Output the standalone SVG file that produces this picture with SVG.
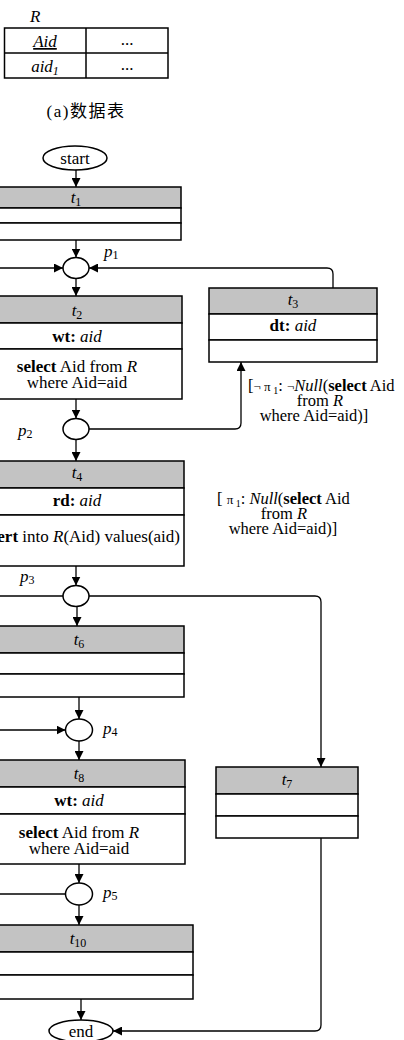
<svg xmlns="http://www.w3.org/2000/svg" width="404" height="1040" viewBox="0 0 404 1040">
<style>
text{font-family:"Liberation Serif","Times New Roman",serif;font-size:17px;fill:#000}
.c{text-anchor:middle}
.i{font-style:italic}
.b{font-weight:bold}
.hdr{fill:#c3c3c3;stroke:#000;stroke-width:1.5}
.row{fill:#fff;stroke:#000;stroke-width:1.5}
.place{fill:#fff;stroke:#000;stroke-width:1.5}
.conn{fill:none;stroke:#000;stroke-width:1.3}
.arr{marker-end:url(#ah)}
.sub{font-size:12px}
.sym{font-size:13px}
.cond{font-size:16.5px}
</style>
<defs>
<marker id="ah" viewBox="0 0 10 10" refX="10" refY="5" markerWidth="9" markerHeight="9" markerUnits="userSpaceOnUse" orient="auto">
<path d="M0,0 L10,5 L0,10 Z" fill="#000"/>
</marker>
</defs>

<g id="table">
<text x="30" y="22" class="i">R</text>
<rect x="4.5" y="28" width="163.5" height="50" fill="#fff" stroke="#000" stroke-width="1.5"/>
<line x1="4.5" y1="53" x2="168" y2="53" stroke="#000" stroke-width="1.5"/>
<line x1="86" y1="28" x2="86" y2="78" stroke="#000" stroke-width="1.5"/>
<text x="45" y="47" class="c i" text-decoration="underline">Aid</text>
<text x="127" y="45" class="c">...</text>
<text x="45" y="72" class="c i">aid<tspan class="sub" dy="3">1</tspan></text>
<text x="127" y="70" class="c">...</text>
<text x="86" y="117" class="c" style="font-family:'Liberation Serif','Noto Sans CJK SC',serif;letter-spacing:1.5px">(a)数据表</text>
</g>

<g id="connectors">
<line class="conn arr" x1="76" y1="170" x2="76" y2="187"/>
<line class="conn arr" x1="76" y1="240" x2="76" y2="257.5"/>
<line class="conn arr" x1="-5" y1="268" x2="63" y2="268"/>
<path class="conn arr" d="M333,288 V274 Q333,268 327,268 H89"/>
<line class="conn arr" x1="76" y1="278.5" x2="76" y2="296"/>
<line class="conn arr" x1="76" y1="399" x2="76" y2="418.5"/>
<path class="conn arr" d="M89,429 H235 Q241,429 241,423 V362"/>
<line class="conn arr" x1="76" y1="439.5" x2="76" y2="461"/>
<line class="conn arr" x1="76" y1="566" x2="76" y2="585.5"/>
<line class="conn" x1="-5" y1="596" x2="63" y2="596"/>
<path class="conn arr" d="M89,596 H315 Q321,596 321,602 V767"/>
<line class="conn arr" x1="77" y1="606.5" x2="77" y2="626"/>
<line class="conn arr" x1="79" y1="697" x2="79" y2="719"/>
<line class="conn arr" x1="-5" y1="730" x2="65.5" y2="730"/>
<line class="conn arr" x1="79" y1="741" x2="79" y2="760"/>
<line class="conn arr" x1="79" y1="864" x2="79" y2="883"/>
<line class="conn" x1="-5" y1="894" x2="65.5" y2="894"/>
<line class="conn arr" x1="79" y1="905" x2="79" y2="925"/>
<line class="conn arr" x1="81" y1="999" x2="81" y2="1020"/>
<path class="conn arr" d="M321,838 V1025 Q321,1031 315,1031 H113"/>
</g>

<g id="cond1">
<text x="248" y="391" class="cond">[<tspan class="sym">¬ π</tspan><tspan font-size="10" dy="3"> 1</tspan><tspan dy="-3">: </tspan><tspan class="sym">¬</tspan><tspan class="i">Null</tspan>(<tspan class="b">select</tspan> Aid</text>
<text x="320" y="406" class="c cond">from <tspan class="i">R</tspan></text>
<text x="314" y="421" class="c cond">where Aid=aid)]</text>
</g>
<g id="cond2">
<text x="217" y="504" class="cond">[ <tspan class="sym">π</tspan><tspan font-size="10" dy="3"> 1</tspan><tspan dy="-3">: </tspan><tspan class="i">Null</tspan>(<tspan class="b">select</tspan> Aid</text>
<text x="284" y="519" class="c cond">from <tspan class="i">R</tspan></text>
<text x="283" y="534" class="c cond">where Aid=aid)]</text>
</g>

<g id="start">
<ellipse class="place" cx="75" cy="158" rx="32" ry="12"/>
<text x="75" y="164" class="c">start</text>
</g>

<g id="t1">
<rect class="hdr" x="-40" y="187" width="221" height="21"/>
<rect class="row" x="-40" y="208" width="221" height="15"/>
<rect class="row" x="-40" y="223" width="221" height="17"/>
<text x="76" y="203" class="c"><tspan class="i">t</tspan><tspan class="sub" dy="3">1</tspan></text>
</g>

<g id="p1">
<ellipse class="place" cx="76" cy="268" rx="13" ry="10.5"/>
<text x="104" y="257"><tspan class="i">p</tspan><tspan class="sub" dy="2">1</tspan></text>
</g>

<g id="t2">
<rect class="hdr" x="-40" y="296" width="222" height="27"/>
<rect class="row" x="-40" y="323" width="222" height="26"/>
<rect class="row" x="-40" y="349" width="222" height="50"/>
<text x="77" y="316" class="c"><tspan class="i">t</tspan><tspan class="sub" dy="3">2</tspan></text>
<text x="77" y="342" class="c"><tspan class="b">wt:</tspan> <tspan class="i">aid</tspan></text>
<text x="77" y="372" class="c"><tspan class="b">select</tspan> Aid from <tspan class="i">R</tspan></text>
<text x="77" y="388" class="c">where Aid=aid</text>
</g>

<g id="t3">
<rect class="hdr" x="209" y="288" width="168" height="26"/>
<rect class="row" x="209" y="314" width="168" height="26"/>
<rect class="row" x="209" y="340" width="168" height="22"/>
<text x="293" y="305" class="c"><tspan class="i">t</tspan><tspan class="sub" dy="3">3</tspan></text>
<text x="293" y="331" class="c"><tspan class="b">dt:</tspan> <tspan class="i">aid</tspan></text>
</g>

<g id="p2">
<ellipse class="place" cx="76" cy="429" rx="13" ry="10.5"/>
<text x="18" y="436"><tspan class="i">p</tspan><tspan class="sub" dy="2">2</tspan></text>
</g>

<g id="t4">
<rect class="hdr" x="-40" y="461" width="224" height="27"/>
<rect class="row" x="-40" y="488" width="224" height="27"/>
<rect class="row" x="-40" y="515" width="224" height="51"/>
<text x="77" y="478" class="c"><tspan class="i">t</tspan><tspan class="sub" dy="3">4</tspan></text>
<text x="77" y="506" class="c"><tspan class="b">rd:</tspan> <tspan class="i">aid</tspan></text>
<text x="180" y="542" text-anchor="end"><tspan class="b">insert</tspan> into <tspan class="i">R</tspan>(Aid) values(aid)</text>
</g>

<g id="p3">
<ellipse class="place" cx="76" cy="596" rx="13" ry="10.5"/>
<text x="20" y="582"><tspan class="i">p</tspan><tspan class="sub" dy="2">3</tspan></text>
</g>

<g id="t6">
<rect class="hdr" x="-40" y="626" width="224" height="27"/>
<rect class="row" x="-40" y="653" width="224" height="21"/>
<rect class="row" x="-40" y="674" width="224" height="23"/>
<text x="79" y="645" class="c"><tspan class="i">t</tspan><tspan class="sub" dy="3">6</tspan></text>
</g>

<g id="p4">
<ellipse class="place" cx="79" cy="730" rx="13.5" ry="11"/>
<text x="103" y="734"><tspan class="i">p</tspan><tspan class="sub" dy="2">4</tspan></text>
</g>

<g id="t7">
<rect class="hdr" x="216" y="767" width="142" height="27"/>
<rect class="row" x="216" y="794" width="142" height="22"/>
<rect class="row" x="216" y="816" width="142" height="22"/>
<text x="287" y="785" class="c"><tspan class="i">t</tspan><tspan class="sub" dy="3">7</tspan></text>
</g>

<g id="t8">
<rect class="hdr" x="-40" y="760" width="225" height="27"/>
<rect class="row" x="-40" y="787" width="225" height="27"/>
<rect class="row" x="-40" y="814" width="225" height="50"/>
<text x="79" y="779" class="c"><tspan class="i">t</tspan><tspan class="sub" dy="3">8</tspan></text>
<text x="79" y="806" class="c"><tspan class="b">wt:</tspan> <tspan class="i">aid</tspan></text>
<text x="79" y="838" class="c"><tspan class="b">select</tspan> Aid from <tspan class="i">R</tspan></text>
<text x="79" y="854" class="c">where Aid=aid</text>
</g>

<g id="p5">
<ellipse class="place" cx="79" cy="894" rx="13.5" ry="11"/>
<text x="103" y="898"><tspan class="i">p</tspan><tspan class="sub" dy="2">5</tspan></text>
</g>

<g id="t10">
<rect class="hdr" x="-40" y="925" width="233" height="27"/>
<rect class="row" x="-40" y="952" width="233" height="23"/>
<rect class="row" x="-40" y="975" width="233" height="24"/>
<text x="78" y="944" class="c"><tspan class="i">t</tspan><tspan class="sub" dy="3">10</tspan></text>
</g>

<g id="end">
<ellipse class="place" cx="81" cy="1031" rx="32" ry="11"/>
<text x="81" y="1037" class="c">end</text>
</g>
</svg>
